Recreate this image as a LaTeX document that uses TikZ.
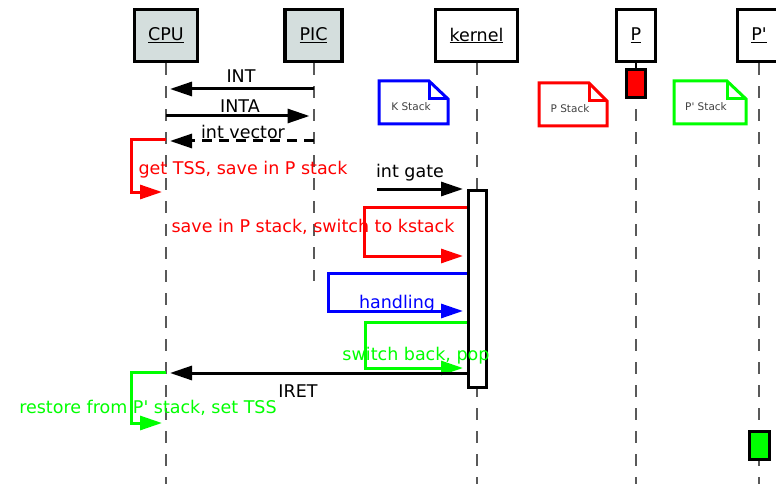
\documentclass[tikz,border=0pt]{standalone}
\usepackage{fontspec}
\setmainfont{DejaVu Sans}[Ligatures=TeXOff]
\usetikzlibrary{arrows.meta}
\definecolor{headfill}{HTML}{D4DEDD}
\definecolor{gr}{HTML}{00FF00}
\definecolor{notetext}{HTML}{404040}
\tikzset{
  head/.style={draw, line width=3.5pt, minimum height=52pt, inner sep=0pt, font=\fontsize{17.5}{20}\selectfont},
  lifeline/.style={draw=black!65, line width=2pt, dash pattern=on 12pt off 11pt},
  msg/.style={line width=3pt, -{Triangle[length=22pt,width=14pt]}, shorten >=4pt},
  loopmsg/.style={line width=3pt, -{Triangle[length=22pt,width=14pt]}, shorten >=4pt},
  lbl/.style={anchor=base, inner sep=0pt},
  notelbl/.style={anchor=base, inner sep=0pt, text=notetext, font=\fontsize{10.5}{12}\selectfont},
  notebox/.style={line width=3pt, line join=miter}
}
\begin{document}
\begin{tikzpicture}[x=1pt,y=-1pt,font=\fontsize{17.5}{20}\selectfont]
\useasboundingbox (0,0) rectangle (776,484);
% heads
\node[head, fill=headfill, minimum width=63pt] (cpu) at (166,35.5) {\underline{CPU}};
\node[head, fill=headfill, minimum width=57pt] (pich) at (313.5,35.5) {\underline{PIC}};
\node[head, fill=white, minimum width=82pt] (kern) at (476.5,35.5) {\underline{kernel}};
\node[head, fill=white, minimum width=39pt] (ph) at (636,35.5) {\underline{P}};
\node[head, fill=white, minimum width=43pt] (pph) at (759,35.5) {\underline{P'}};
% lifelines
\coordinate (bot) at (0,484);
\draw[lifeline] (cpu.south) -- (cpu |- bot);
\draw[lifeline] (pich.south) -- (pich |- 0,281);
\draw[lifeline] (kern.south) -- (kern |- bot);
\draw[lifeline] (ph.south) -- (ph |- bot);
\draw[lifeline] (pph.south) -- (pph |- bot);
% activations
\node[draw, line width=3pt, fill=white, minimum width=18pt, minimum height=197pt, inner sep=0pt] (kact) at (477.5,289) {};
\node[draw, line width=3pt, fill=red, minimum width=19pt, minimum height=28pt, inner sep=0pt] (pact) at (636,83.5) {};
\draw[line width=2pt] (ph.south) -- (pact.north);
\node[draw, line width=3pt, fill=gr, minimum width=20pt, minimum height=28pt, inner sep=0pt] (ppact) at (759.5,445) {};
% notes
\node[notelbl] (kst) at (411,111) {K Stack};
\draw[notebox, blue] (379,81) -- (429,81) -- (448,99) -- (448,124) -- (379,124) -- cycle;
\draw[notebox, blue] (429,81) -- (429,99) -- (448,99);
\node[notelbl] (pst) at (570,113) {P Stack};
\draw[notebox, red] (539,83) -- (589,83) -- (607,101) -- (607,126) -- (539,126) -- cycle;
\draw[notebox, red] (589,83) -- (589,101) -- (607,101);
\node[notelbl] (ppst) at (706,111) {P' Stack};
\draw[notebox, gr] (674,81) -- (727,81) -- (746,99) -- (746,124) -- (674,124) -- cycle;
\draw[notebox, gr] (727,81) -- (727,99) -- (746,99);
% messages
\draw[msg] (pich |- 0,89) -- (cpu |- 0,89);
\node[lbl] (lint) at (241,83) {INT};
\draw[msg] (cpu |- 0,116) -- (pich |- 0,116);
\node[lbl] (linta) at (240,113) {INTA};
\draw[msg, dash pattern=on 10pt off 7pt] (pich |- 0,141) -- (cpu |- 0,141);
\node[lbl] (livec) at (243,139) {int vector};
% red loop on CPU
\draw[loopmsg, red] (cpu |- 0,140) -| (131,192) -- (cpu |- 0,192);
\node[lbl, text=red] (ltss) at (243,175) {get TSS, save in P stack};
% int gate
\coordinate (igs) at (377,189);
\draw[msg] (igs) -- (kact.north west);
\node[lbl] (lgate) at (410,177) {int gate};
% red loop on kernel
\draw[loopmsg, red] (kact.west |- 0,207) -| (364,256) -- (kact.west |- 0,256);
\node[lbl, text=red] (lsave) at (313,232) {save in P stack, switch to kstack};
% blue loop
\draw[loopmsg, blue] (kact.west |- 0,273) -| (328,311) -- (kact.west |- 0,311);
\node[lbl, text=blue] (lhand) at (397,308) {handling};
% green loop on kernel
\draw[loopmsg, gr] (kact.west |- 0,322) -| (365,368) -- (kact.west |- 0,368);
\node[lbl, text=gr] (lpop) at (416,360) {switch back, pop};
% IRET
\draw[msg] (kact.west |- 0,373) -- (cpu |- 0,373);
\node[lbl] (liret) at (298,397) {IRET};
% green loop on CPU
\draw[loopmsg, gr] (cpu |- 0,372) -| (131,423) -- (cpu |- 0,423);
\node[lbl, text=gr] (lrest) at (148,413) {restore from P' stack, set TSS};
\end{tikzpicture}
\end{document}
